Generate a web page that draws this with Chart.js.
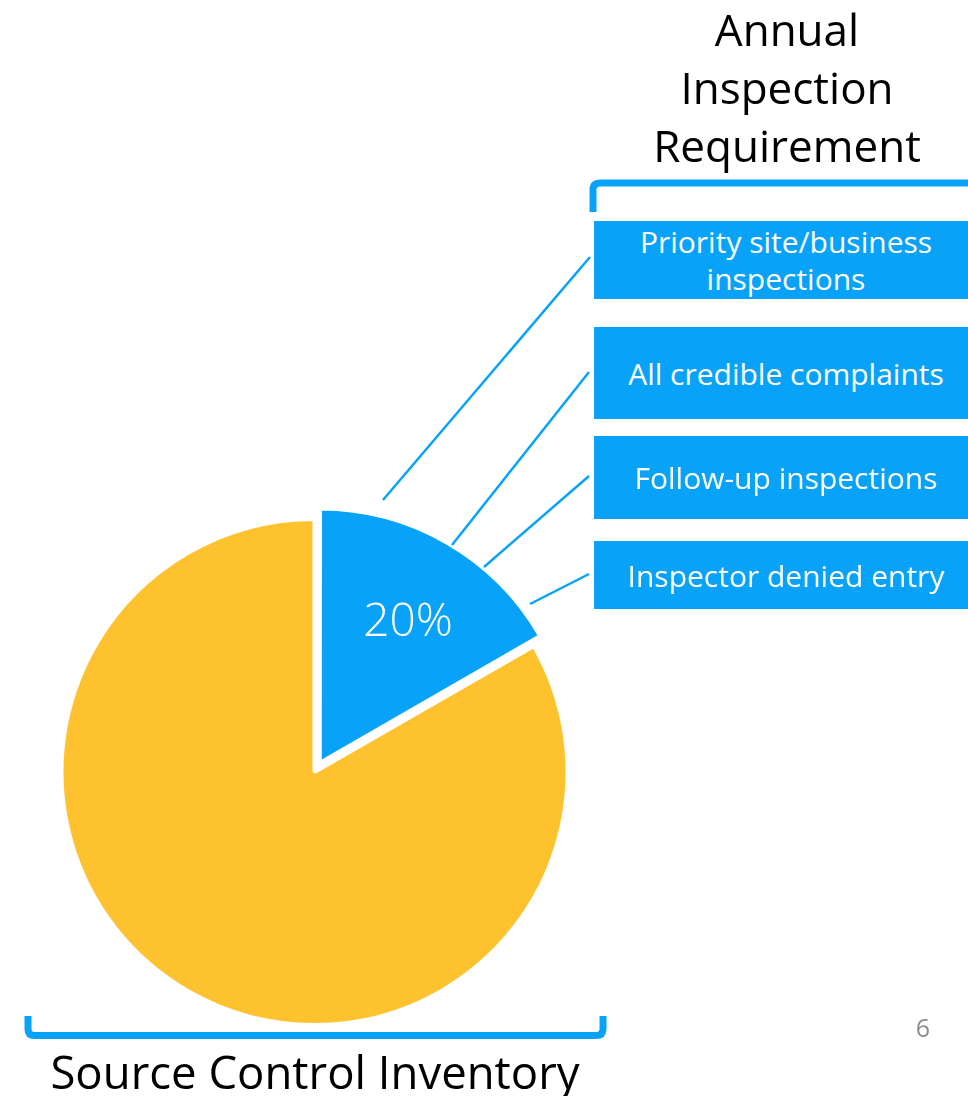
<!DOCTYPE html>
<html>
<head>
<meta charset="utf-8">
<script src="https://cdn.jsdelivr.net/npm/chart.js@4"></script>
<style>
    body { margin: 0; background: #fff; }
    #page { position: relative; width: 968px; height: 1096px; overflow: hidden; font-family: "Open Sans", "Noto Sans", sans-serif; }
    #pie { position: absolute; left: 0; top: 472px; }
    #lines { position: absolute; left: 0; top: 0; }
    .title { position: absolute; color: #000; text-align: center; line-height: 58px; }
    .box { position: absolute; left: 594px; width: 384px; background: #08a3f9; color: #fff;
           display: flex; align-items: center; justify-content: center; text-align: center;
           font-size: 30px; line-height: 37px; }
    #pct { position: absolute; color: #fff; font-size: 46px; font-weight: 300; width: 160px; text-align: center; }
    #pageNum { position: absolute; left: 908px; top: 1010px; width: 30px; text-align: center; color: #8c8c8c; font-size: 25px; }
</style>
</head>
<body>
<div id="page">
    <canvas id="pie" width="629" height="600"></canvas>
    <svg id="lines" width="968" height="1096"></svg>
    <div class="title" id="topTitle" style="left:587px; top:0px; width:400px; font-size:44px;"></div>
    <div class="title" id="bottomTitle" style="left:15px; top:1042px; width:600px; font-size:45.5px;"></div>
    <div id="pct" style="left:328px; top:587px;"></div>
    <div id="pageNum">6</div>
</div>
<script>
// data
var categories = ["Annual Inspection Requirement", "Source Control Inventory"];
var values = [16.7, 83.3];          // slice sizes as drawn in the picture
var sliceLabels = ["20%", ""];      // label printed on the blue slice
var sliceColors = ["#08a3f9", "#ffc22f"];
var calloutItems = [
    "Priority site/business<br>inspections",
    "All credible complaints",
    "Follow-up inspections",
    "Inspector denied entry",
];

// layout of callout boxes (top, height) and their leader lines
var boxRows = [[221, 78], [327, 92], [436, 83], [541, 68]];
var leaders = [[383, 500, 590, 257], [452, 545, 589, 372], [484, 567, 589, 476], [530, 604, 589, 574]];

var page = document.getElementById("page");
calloutItems.forEach(function (txt, i) {
    var d = document.createElement("div");
    d.className = "box";
    d.style.top = boxRows[i][0] + "px";
    d.style.height = boxRows[i][1] + "px";
    d.innerHTML = txt;
    page.appendChild(d);
});

document.getElementById("topTitle").innerHTML = "Annual<br>Inspection<br>Requirement";
document.getElementById("bottomTitle").textContent = categories[1];
document.getElementById("pct").textContent = sliceLabels[0];

// leader lines + brackets
var blue = sliceColors[0];
var svg = '';
leaders.forEach(function (l) {
    svg += '<line x1="' + l[0] + '" y1="' + l[1] + '" x2="' + l[2] + '" y2="' + l[3] + '" stroke="' + blue + '" stroke-width="2.5"/>';
});
svg += '<path d="M593 212 L593 190 Q593 183 600 183 L975 183" fill="none" stroke="' + blue + '" stroke-width="7"/>';
svg += '<path d="M28 1016 L28 1029 Q28 1035.5 34.5 1035.5 L596.5 1035.5 Q603 1035.5 603 1029 L603 1016" fill="none" stroke="' + blue + '" stroke-width="7"/>';
document.getElementById("lines").innerHTML = svg;

// Start pie
var ctx = document.getElementById("pie").getContext("2d");
var myChart = new Chart(ctx, {
    type: "pie",
    data: {
        labels: categories,
        datasets: [
            {
                data: values,
                backgroundColor: sliceColors,
                borderColor: "#ffffff",
                borderWidth: 4,
                offset: [42, 0],
                radius: 253,
            },
        ],
    },
    options: {
        responsive: false,
        animation: false,
        events: [],
        layout: {
            padding: 0
        },
        plugins: {
            legend: { display: false },
            tooltip: { enabled: false }
        }
    },
});
// end pie
</script>
</body>
</html>
